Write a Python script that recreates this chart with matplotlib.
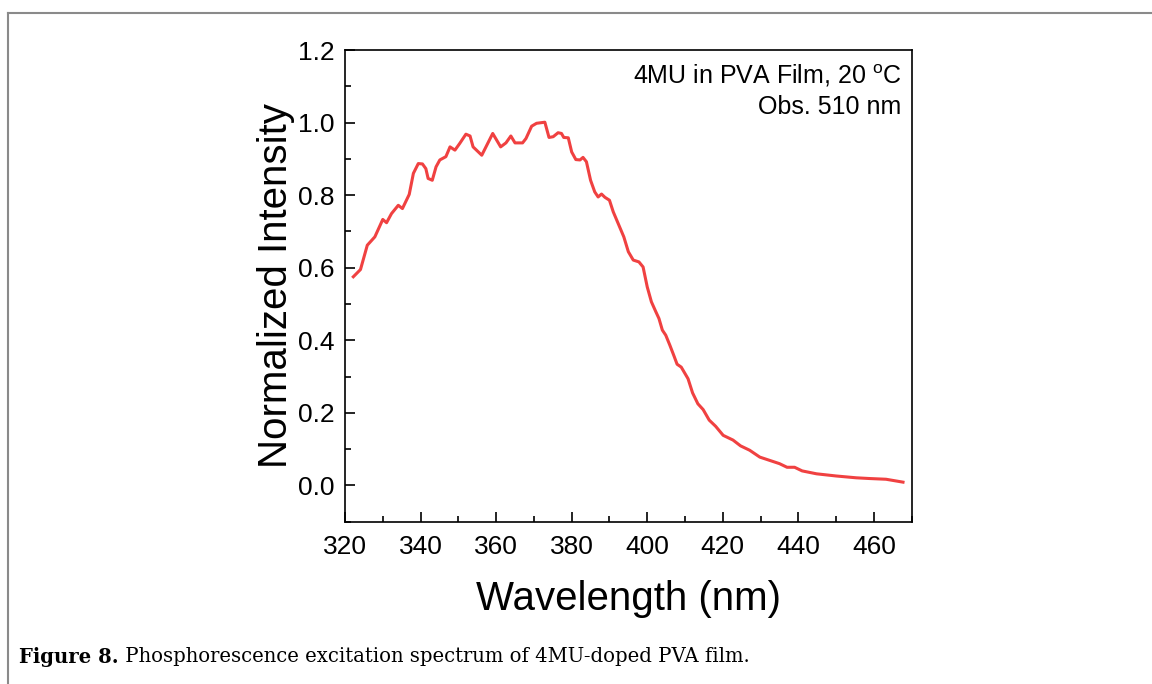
import matplotlib
matplotlib.use("Agg")
import matplotlib.pyplot as plt
from matplotlib.lines import Line2D
from matplotlib.ticker import MultipleLocator

wavelength = [322.2, 324.1, 325.9, 327.9, 330.0, 331.0, 332.3, 334.1, 335.2, 337.0,
              338.1, 339.4, 340.5, 341.4, 342.0, 343.1, 344.1, 345.1, 346.7, 347.8,
              349.1, 350.4, 352.0, 353.1, 353.9, 356.2, 359.1, 361.2, 362.6, 363.9,
              365.0, 367.0, 367.9, 369.4, 370.7, 372.9, 374.0, 375.1, 376.4, 377.3,
              377.9, 379.1, 380.0, 381.1, 382.2, 383.0, 383.9, 385.0, 386.1, 387.0,
              387.9, 388.8, 390.0, 391.0, 392.3, 393.8, 395.0, 396.3, 397.8, 398.9,
              400.0, 401.1, 402.3, 403.1, 404.0, 404.9, 406.0, 407.0, 407.9, 409.0,
              410.8, 412.0, 413.4, 414.8, 416.4, 418.1, 420.1, 422.7, 424.7, 427.1,
              429.8, 432.4, 435.0, 437.0, 439.0, 441.0, 444.8, 450.0, 455.3, 458.8,
              463.2, 467.7]
intensity = [0.575, 0.595, 0.662, 0.685, 0.733, 0.724, 0.749, 0.772, 0.763, 0.802,
             0.860, 0.887, 0.886, 0.873, 0.846, 0.841, 0.878, 0.897, 0.906, 0.933,
             0.924, 0.943, 0.968, 0.963, 0.933, 0.910, 0.970, 0.933, 0.944, 0.963,
             0.944, 0.944, 0.956, 0.990, 0.998, 1.001, 0.959, 0.961, 0.972, 0.970,
             0.959, 0.958, 0.919, 0.898, 0.897, 0.904, 0.892, 0.841, 0.809, 0.795,
             0.803, 0.794, 0.786, 0.754, 0.722, 0.685, 0.644, 0.621, 0.616, 0.602,
             0.547, 0.506, 0.478, 0.460, 0.428, 0.414, 0.386, 0.359, 0.334, 0.326,
             0.294, 0.255, 0.225, 0.209, 0.180, 0.163, 0.138, 0.125, 0.109, 0.097,
             0.078, 0.069, 0.060, 0.050, 0.050, 0.040, 0.032, 0.026, 0.021, 0.019,
             0.017, 0.009]

x_ticks = [320, 340, 360, 380, 400, 420, 440, 460]
y_ticks = [0.0, 0.2, 0.4, 0.6, 0.8, 1.0, 1.2]
annotation = "4MU in PVA Film, 20 $^{\\mathrm{o}}$C\nObs. 510 nm"
caption_bold = "Figure 8."
caption_text = " Phosphorescence excitation spectrum of 4MU-doped PVA film."

plt.rcParams['font.family'] = ['Liberation Sans', 'DejaVu Sans']
plt.rcParams['mathtext.fontset'] = 'custom'
plt.rcParams['mathtext.rm'] = 'Liberation Sans'

W, H = 1152, 684
fig = plt.figure(figsize=(W / 100, H / 100), dpi=100, facecolor='white')
ax = fig.add_axes([345 / W, 1 - 521.7 / H, (911.7 - 345) / W, (521.7 - 50) / H])

ax.plot(wavelength, intensity, color='#F04141', lw=2.2, solid_joinstyle='round')

ax.set_xlim(320, 470)
ax.set_ylim(-0.1, 1.2)
ax.set_xticks(x_ticks)
ax.set_yticks(y_ticks)
ax.set_xticklabels([str(v) for v in x_ticks])
ax.set_yticklabels([f"{v:.1f}" for v in y_ticks])
ax.xaxis.set_minor_locator(MultipleLocator(10))
ax.yaxis.set_minor_locator(MultipleLocator(0.1))
ax.tick_params(which='both', direction='in', width=1.2, labelsize=19)
ax.tick_params(axis='x', which='major', pad=9.5)
ax.tick_params(axis='y', which='major', pad=7.5)
ax.tick_params(which='major', length=7)
ax.tick_params(which='minor', length=4)
ax.tick_params(axis='both', which='both', top=False, right=False)
for s in ax.spines.values():
    s.set_linewidth(1.2)

ax.set_xlabel("Wavelength (nm)", fontsize=29, labelpad=15)
ax.set_ylabel("Normalized Intensity", fontsize=29, labelpad=2)

ax.text(0.982, 0.914, annotation, transform=ax.transAxes, ha='right', va='center',
        fontsize=18, linespacing=1.35)

# page frame
fig.add_artist(Line2D([8 / W, 1.0], [1 - 13 / H, 1 - 13 / H], color='#8a8a8a', lw=1.5,
                      transform=fig.transFigure))
fig.add_artist(Line2D([8 / W, 8 / W], [1 - 13 / H, 0.0], color='#8a8a8a', lw=1.5,
                      transform=fig.transFigure))

# caption, scaled to span the same width as in the reference
cap_fs = 13.0
t1 = fig.text(19 / W, 1 - 657 / H, caption_bold, fontsize=cap_fs, fontweight='bold',
              family='DejaVu Serif', va='center', ha='left')
t2 = fig.text(0, 1 - 657 / H, caption_text, fontsize=cap_fs,
              family='DejaVu Serif', va='center', ha='left')
fig.canvas.draw()
r = fig.canvas.get_renderer()
w_total = t1.get_window_extent(r).width + t2.get_window_extent(r).width
cap_fs = cap_fs * (747 - 19) / w_total
t1.set_fontsize(cap_fs)
t2.set_fontsize(cap_fs)
fig.canvas.draw()
bb = t1.get_window_extent(r)
t2.set_x(bb.x1 / W)

fig.savefig("out.png", dpi=100, facecolor='white')
